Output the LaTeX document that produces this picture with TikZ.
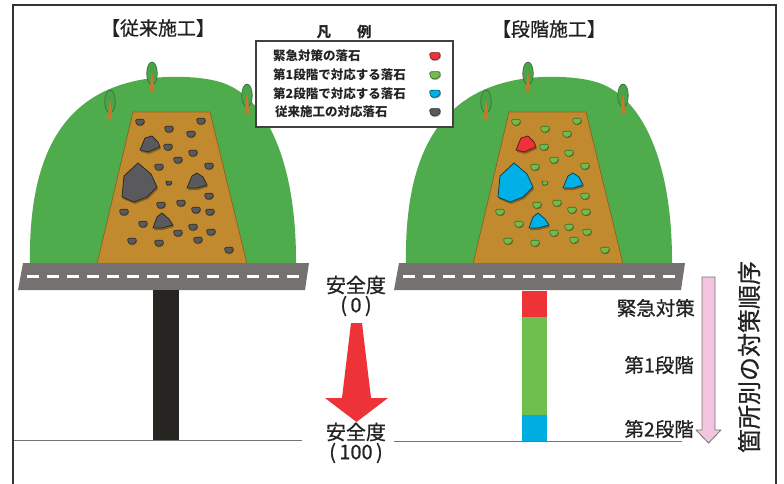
\documentclass[tikz,border=0pt]{standalone}
\usepackage{fontspec}
\setmainfont{Noto Sans CJK JP}
\newfontfamily\jpmed[FakeBold=0.7]{Noto Sans CJK JP}
\definecolor{hill}{HTML}{4FAC4D}
\definecolor{hillline}{HTML}{469C44}
\definecolor{slope}{HTML}{C18A2E}
\definecolor{slopeline}{HTML}{8C6120}
\definecolor{road}{HTML}{767171}
\definecolor{rockgray}{HTML}{5A5A5C}
\definecolor{rockline}{HTML}{2A2A2A}
\definecolor{rockgreen}{HTML}{72BA4C}
\definecolor{rockgreenline}{HTML}{3A6A26}
\definecolor{rockred}{HTML}{EE3338}
\definecolor{rockblue}{HTML}{00B0E6}
\definecolor{pinkarrow}{HTML}{F2C4DF}
\definecolor{colred}{HTML}{EE3338}
\definecolor{colgreen}{HTML}{6DC04E}
\definecolor{colblue}{HTML}{00ADE2}
\definecolor{coldark}{HTML}{262522}
\definecolor{trunk}{HTML}{C47A2A}
\definecolor{ink}{HTML}{222222}

% small stone: #1 scale, #2 style, #3 x, #4 y
\newcommand\pebble[4][1]{%
  \begin{scope}[shift={(#3,#4)},scale=#1]
    \fill[black,opacity=.3,rounded corners=1.2pt]
      (-3.8,-1.8) -- (4.9,-2) -- (5.3,1.8) -- (1.9,4.4) -- (-2.3,4.2) -- (-3.9,1) -- cycle;
    \path[#2,rounded corners=1.2pt]
      (-4.5,-2.8) -- (4.2,-3) -- (4.6,0.8) -- (1.2,3.4) -- (-3,3.2) -- (-4.6,0) -- cycle;
  \end{scope}}

% hill with slope, trees, rocks and road: #1 x shift, #2..#5 big rock styles, #6 pebble style
\newcommand\hillscene[6]{%
  \begin{scope}[shift={(#1,0)}]
    % hill
    \path[fill=hill] (30,266) .. controls (28,160) and (60,95) .. (140,80)
      .. controls (165,75) and (200,76) .. (220,82)
      .. controls (265,95) and (297,160) .. (296,266) -- cycle;
    % trees
    \foreach \tx/\ty in {152/73.5, 110/101.5, 247/95.5}{
      \path[treecrown] (\tx,\ty) ellipse [x radius=5.3, y radius=11.5];
      \fill[trunk] (\tx-2.4,\ty+17.5) -- (\tx+2.4,\ty+17.5) -- (\tx+0.4,\ty-1) -- (\tx-0.4,\ty-1) -- cycle;
    }
    % slope face
    \path[fill=slope, draw=slopeline, line width=0.7] (133,112) -- (210,112) -- (247,264) -- (97,264) -- cycle;
    % big rocks
    \fill[black,opacity=.3] (141,152) -- (146,140) -- (153,138) -- (159,144) -- (161,149) -- (149,154) -- cycle;
    \path[#2] (140,150) -- (145,138) -- (152,136) -- (158,142) -- (160,147) -- (148,152) -- cycle;
    \fill[black,opacity=.3] (123,199) -- (125,178) -- (139,165) -- (152,176) -- (158,189) -- (148,199) -- (135,204) -- cycle;
    \path[#3] (122,197) -- (124,176) -- (138,163) -- (151,174) -- (157,187) -- (147,197) -- (134,202) -- cycle;
    \fill[black,opacity=.3] (188,190) -- (193,178) -- (198,175) -- (204,179) -- (208,187) -- (198,190) -- cycle;
    \path[#4] (187,188) -- (192,176) -- (197,173) -- (203,177) -- (207,185) -- (197,188) -- cycle;
    \fill[black,opacity=.3] (154,230) -- (158,219) -- (163,215) -- (170,221) -- (174,227) -- (163,230) -- cycle;
    \path[#5] (153,228) -- (157,217) -- (162,213) -- (169,219) -- (173,225) -- (162,228) -- cycle;
    % small rocks
    \foreach \px/\py in {140/122, 169/129, 201/121, 191/134, 168/147, 193/153, 178/160,
        159/167, 209/166, 209/196, 161/205, 181/203, 196/210, 210/212, 124/212, 143/224,
        193/227, 178/233, 211/232, 132/241, 159/243, 198/240, 229/250}{
      \pebble[0.95]{#6}{\px}{\py}
    }
    \pebble[0.65]{#6}{169}{183}
    % road
    \fill[road] (23,263) -- (309,263) -- (305,290) -- (18,290) -- cycle;
    \draw[roaddash] (27,276.5) -- (302,276.5);
  \end{scope}}

\begin{document}
\begin{tikzpicture}[x=1pt,y=-1pt,
    treecrown/.style={fill=hill!95!black, draw=hillline!70!black, line width=0.6},
    roaddash/.style={white, line width=2.2, dash pattern=on 12pt off 8pt},
    rockA/.style={fill=rockgray, draw=rockline, line width=0.8, line join=round},
    rockR/.style={fill=rockred, draw=rockred!45!black, line width=0.8, line join=round},
    rockB/.style={fill=rockblue, draw=rockblue!40!black, line width=0.8, line join=round},
    pebA/.style={fill=rockgray, draw=rockline, line width=0.6},
    pebG/.style={fill=rockgreen, draw=rockgreenline, line width=0.6},
    pebR/.style={fill=rockred, draw=rockred!45!black, line width=0.6},
    pebB/.style={fill=rockblue, draw=rockblue!40!black, line width=0.6},
    title/.style={text=ink, font=\jpmed\fontsize{19pt}{21pt}\selectfont, inner sep=0},
    legtext/.style={text=ink, font=\bfseries\fontsize{12.5pt}{14pt}\selectfont, anchor=west, inner sep=0},
    safety/.style={text=ink, font=\jpmed\fontsize{20pt}{22pt}\selectfont, inner sep=0},
    steplabel/.style={text=ink, font=\jpmed\fontsize{19.5pt}{22pt}\selectfont, anchor=east, inner sep=0},
    baseline rule/.style={draw=black!55, line width=0.8}]
\useasboundingbox (0,0) rectangle (784,484);
\fill[white] (0,0) rectangle (784,484);

% the two scenes
\hillscene{0}{rockA}{rockA}{rockA}{rockA}{pebA}
\hillscene{376}{rockR}{rockB}{rockB}{rockB}{pebG}

% titles
\node[title] (t1) at (158,28) {【従来施工】};
\node[title] (t2) at (549,29) {【段階施工】};

% legend
\node[text=ink, font=\bfseries\fontsize{14.5pt}{16pt}\selectfont, inner sep=0] (lt) at (344,32) {凡\hspace{26pt}例};
\node[draw=black!75, line width=1.2, fill=white, minimum width=197pt, minimum height=86pt, inner sep=0] (legend) at (354.5,84) {};
\node[legtext] (l1) at (273,56) {緊急対策の落石};
\node[legtext] (l2) at (273,75) {第1段階で対応する落石};
\node[legtext] (l3) at (273,93.5) {第2段階で対応する落石};
\node[legtext] (l4) at (275,112) {従来施工の対応落石};
\pebble[1.15]{pebR}{435}{56}
\pebble[1.15]{pebG}{435}{75}
\pebble[1.15]{pebB}{435}{93.5}
\pebble[1.15]{pebA}{435}{112}

% safety bars
\fill[coldark] (153,290) rectangle (179,440);
\fill[colred] (522,291) rectangle (547,317);
\fill[colgreen] (522,317) rectangle (547,415);
\fill[colblue] (522,415) rectangle (547,441);

% base lines
\coordinate (b1a) at (13,440);
\coordinate (b1b) at (302,440);
\coordinate (b2a) at (394,441);
\coordinate (b2b) at (682,441);
\draw[baseline rule] (b1a) -- (b1b);
\draw[baseline rule] (b2a) -- (b2b);

% safety degree and red arrow
\node[safety] (s0) at (356,285) {安全度};
\node[safety] (s0n) at (356,306) {(\,0\,)};
\node[safety] (s1) at (356,432) {安全度};
\node[safety] (s1n) at (356,453) {(\,100\,)};
\fill[colred] (351,323) -- (362,323) -- (371,398) -- (388,398) -- (356.5,422) -- (325,398) -- (342,398) -- cycle;

% stage labels
\node[steplabel] (k1) at (695,308) {緊急対策};
\node[steplabel] (k2) at (694,365) {第1段階};
\node[steplabel] (k3) at (694,429) {第2段階};

% order arrow
\path[fill=pinkarrow, draw=black!55, line width=0.8, line join=round]
  (702,277) -- (715,277) -- (715,430) -- (721,430) -- (708.5,443) -- (696,430) -- (702,430) -- cycle;
\node[text=ink, font=\jpmed\fontsize{24pt}{26pt}\selectfont, rotate=90, inner sep=0] (ord) at (749,357) {箇所別の対策順序};

% frame
\draw[black!80, line width=1.3] (13,484) -- (13,5) -- (776,5) -- (776,484);
\end{tikzpicture}
\end{document}
